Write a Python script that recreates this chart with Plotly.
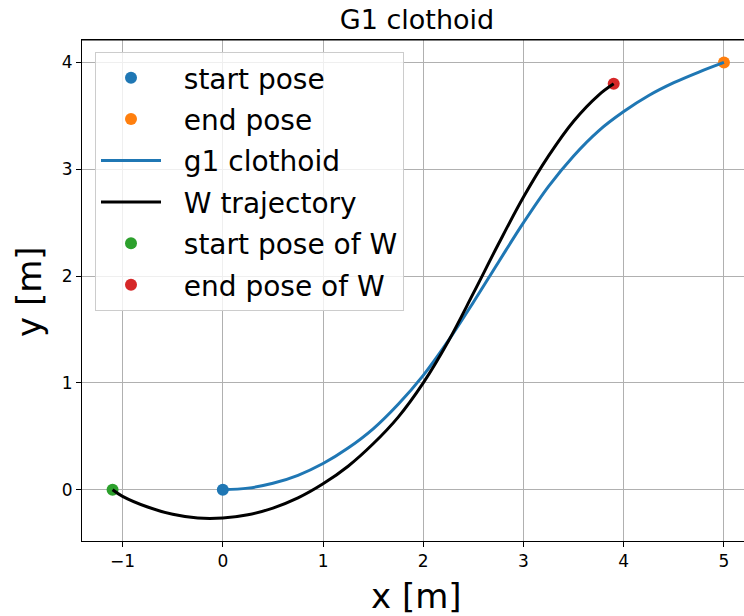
import plotly.graph_objects as go

# ---- data ----
start_pose = ([0.0], [0.0])
end_pose = ([5.0], [4.0])
start_pose_w = ([-1.1], [0.0])
end_pose_w = ([3.9], [3.8])

g1_x = [0.0, 0.25, 0.5, 0.75, 1.0, 1.25, 1.5, 1.75, 2.0, 2.25, 2.5, 2.75,
        3.0, 3.25, 3.5, 3.75, 4.0, 4.25, 4.5, 4.75, 5.0]
g1_y = [0.0, 0.015, 0.06, 0.135, 0.245, 0.39, 0.57, 0.80, 1.07, 1.395,
        1.755, 2.13, 2.5, 2.84, 3.125, 3.36, 3.54, 3.69, 3.81, 3.91, 4.0]

w_x = [-1.1, -1.0, -0.75, -0.5, -0.25, 0.0, 0.25, 0.5, 0.75, 1.0, 1.25, 1.5,
       1.75, 2.0, 2.25, 2.5, 2.75, 3.0, 3.25, 3.5, 3.75, 3.9]
w_y = [0.0, -0.062, -0.162, -0.23, -0.265, -0.265, -0.235, -0.172, -0.077,
       0.055, 0.22, 0.43, 0.68, 1.0, 1.39, 1.84, 2.30, 2.74, 3.125, 3.45,
       3.695, 3.80]

x_ticks = [-1, 0, 1, 2, 3, 4, 5]
y_ticks = [0, 1, 2, 3, 4]

BLUE, ORANGE, GREEN, RED = "#1f77b4", "#ff7f0e", "#2ca02c", "#d62728"
FONT = "DejaVu Sans"
PAD = "\u00a0\u00a0"

fig = go.Figure()

def pt(xy, name, color, rank):
    fig.add_trace(go.Scatter(x=xy[0], y=xy[1], mode="markers", name=PAD + name,
                             marker=dict(color=color, size=12, line=dict(width=0)),
                             legendrank=rank, legendgroup=name))

# markers first so lines are drawn on top (as in the reference)
pt(start_pose, "start pose", BLUE, 1)
pt(end_pose, "end pose", ORANGE, 2)
pt(start_pose_w, "start pose of W", GREEN, 5)
pt(end_pose_w, "end pose of W", RED, 6)

fig.add_trace(go.Scatter(x=g1_x, y=g1_y, mode="lines", name=PAD + "g1 clothoid",
                         line=dict(color=BLUE, width=3, shape="spline", smoothing=1),
                         legendrank=3, legendgroup="g1"))
fig.add_trace(go.Scatter(x=w_x, y=w_y, mode="lines", name=PAD + "W trajectory",
                         line=dict(color="black", width=3, shape="spline", smoothing=1),
                         legendrank=4, legendgroup="w"))

PL, PR, PT, PB = 82, 744, 40, 541
pw, ph = PR - PL, PB - PT

fig.update_layout(
    width=744, height=616,
    margin=dict(l=PL, r=744 - PR, t=PT, b=616 - PB, pad=0),
    paper_bgcolor="white", plot_bgcolor="white",
    font=dict(family=FONT, color="black"),
    title=dict(text="G1 clothoid", font=dict(family=FONT, size=27, color="black"),
               x=(417 - PL) / pw, xref="paper", xanchor="center",
               y=1 - 20 / 616, yref="container", yanchor="middle"),
    showlegend=True,
    legend=dict(x=(95 - PL) / pw, y=(PB - 52) / ph, xanchor="left", yanchor="top",
                bgcolor="rgba(255,255,255,0.8)", bordercolor="#cccccc", borderwidth=1,
                font=dict(family=FONT, size=28, color="black"),
                traceorder="grouped", tracegroupgap=2, itemwidth=60),
    xaxis=dict(range=[-1.405, 5.2], tickvals=x_ticks, ticks="outside", ticklen=5,
               tickcolor="black", tickwidth=1, showline=True, linecolor="black",
               linewidth=1, mirror=True, showgrid=True, gridcolor="#b0b0b0",
               gridwidth=1, zeroline=False, tickfont=dict(size=17, family=FONT),
               fixedrange=True),
    yaxis=dict(range=[-0.48, 4.21], tickvals=y_ticks, ticks="outside", ticklen=5,
               tickcolor="black", tickwidth=1, showline=True, linecolor="black",
               linewidth=1, mirror=False, showgrid=True, gridcolor="#b0b0b0",
               gridwidth=1, zeroline=False, tickfont=dict(size=17, family=FONT),
               fixedrange=True),
    annotations=[
        dict(text="x [m]", xref="paper", yref="paper", x=(417 - PL) / pw,
             y=(PB - 596) / ph, xanchor="center", yanchor="middle",
             showarrow=False, font=dict(family=FONT, size=34, color="black")),
        dict(text="y [m]", xref="paper", yref="paper", x=(29 - PL) / pw,
             y=(PB - 292) / ph, xanchor="center", yanchor="middle", textangle=-90,
             showarrow=False, font=dict(family=FONT, size=34, color="black")),
    ],
)

# top spine only (right side of the axes is cut off in the reference)
fig.add_shape(type="line", xref="paper", yref="paper", x0=0, x1=1, y0=1, y1=1,
              line=dict(color="black", width=1))

fig.write_html("out.html")
